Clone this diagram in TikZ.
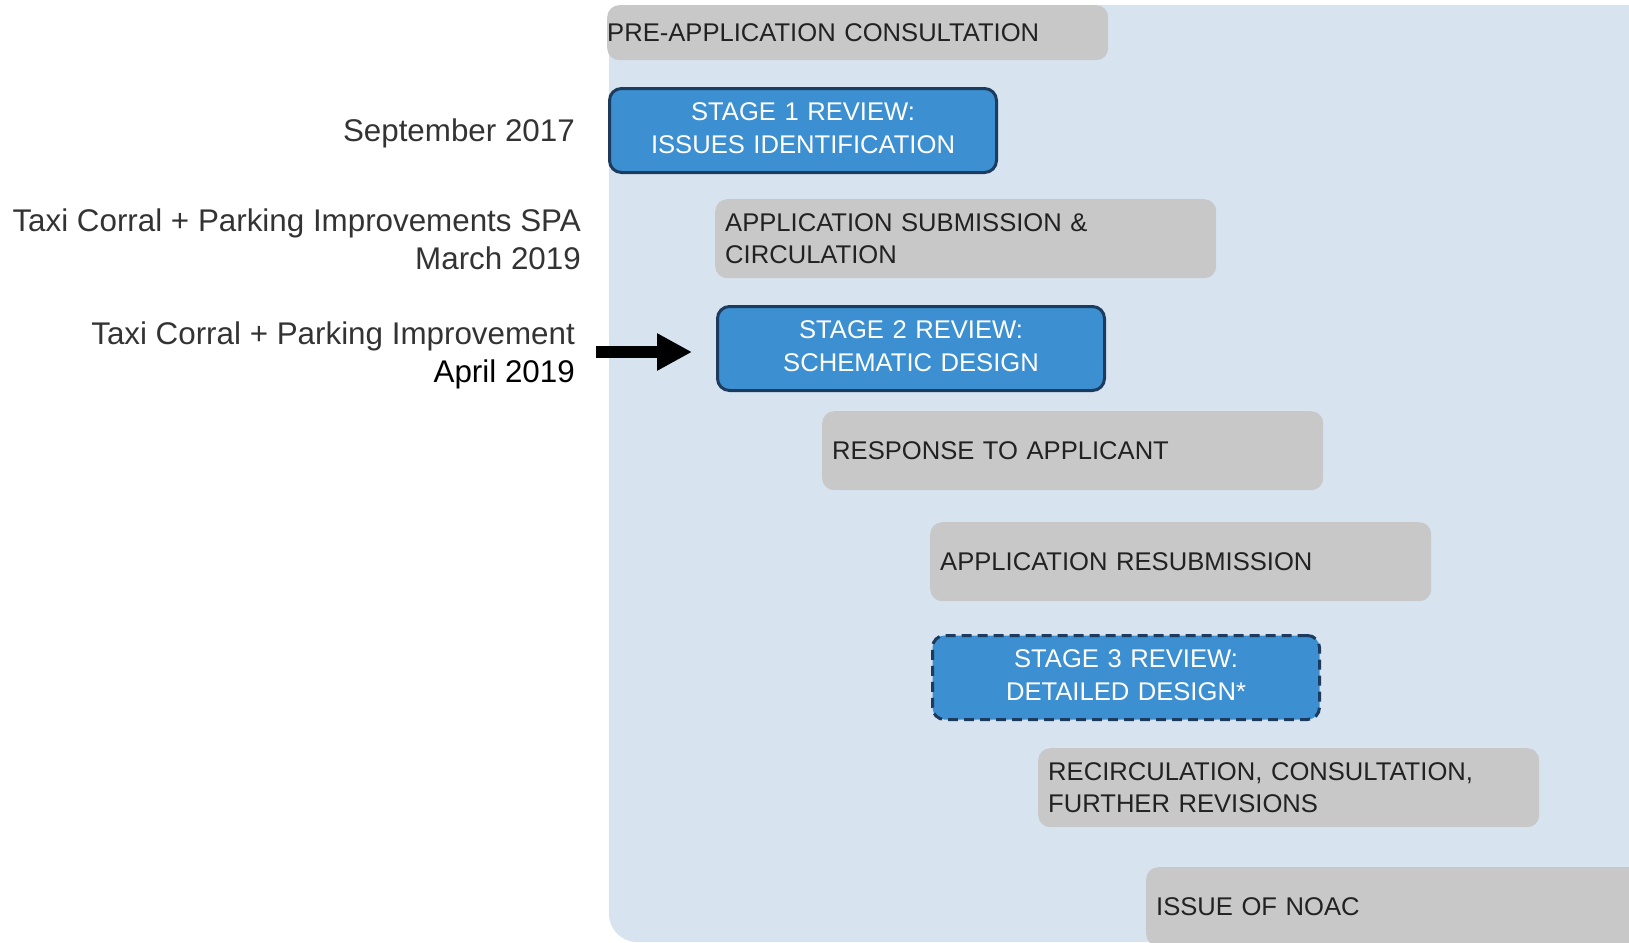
\documentclass[tikz,border=0pt]{standalone}
\usepackage{fontspec}
\setmainfont{Liberation Sans}
\usetikzlibrary{arrows.meta}

\definecolor{panelblue}{HTML}{D7E4EF}
\definecolor{boxgrey}{HTML}{C8C8C8}
\definecolor{stageblue}{HTML}{3C8FD0}
\definecolor{stageedge}{HTML}{1D3B5F}
\definecolor{boxtext}{HTML}{222222}

\newcommand\boxfont{\fontsize{25.6}{32}\selectfont}
\newcommand\datefont{\fontsize{31.35}{38}\selectfont}

\tikzset{
  greybox/.style = {fill=boxgrey, rounded corners=12pt, anchor=north west,
    text width=481pt, inner xsep=10pt, inner ysep=0pt, minimum height=79pt,
    align=left, text=boxtext, font=\boxfont},
  stagebox/.style = {fill=stageblue, draw=stageedge, line width=3pt,
    rounded corners=12pt, anchor=north west, text width=387pt, inner xsep=0pt,
    inner ysep=0pt, minimum height=84pt, align=center, text=white,
    font=\fontsize{25.6}{33}\selectfont},
  datelabel/.style = {anchor=east, align=right, inner sep=0pt,
    text=black!80, font=\datefont},
  bigarrow/.style = {line width=12pt, -{Triangle[length=35pt,width=35pt]}}
}

\begin{document}
\begin{tikzpicture}[x=1pt, y=-1pt]
\path [use as bounding box, clip] (0,0) rectangle (1629,942);
\fill [panelblue, rounded corners=28pt] (609,5) rectangle (1660,942);

\node [greybox, text width=501pt, inner xsep=0pt, minimum height=55pt] (preapp) at (607,5) {PRE-APPLICATION CONSULTATION};
\node [stagebox] (stage1) at (608,87) {STAGE 1 REVIEW:\\ ISSUES IDENTIFICATION\vphantom{g}};
\node [greybox] (submit) at (715,199) {APPLICATION SUBMISSION \&\\ CIRCULATION};
\node [stagebox] (stage2) at (716,305) {STAGE 2 REVIEW:\\ SCHEMATIC DESIGN\vphantom{g}};
\node [greybox] (response) at (822,411) {RESPONSE TO APPLICANT};
\node [greybox] (resubmit) at (930,522) {APPLICATION RESUBMISSION};
\node [stagebox, dash pattern=on 10pt off 6pt] (stage3) at (931,634) {STAGE 3 REVIEW:\\ DETAILED DESIGN*\vphantom{g}};
\node [greybox] (recirc) at (1038,748) {RECIRCULATION, CONSULTATION,\\ FURTHER REVISIONS};
\node [greybox] (noac) at (1146,867) {ISSUE OF NOAC};

\node [datelabel] (sept) at (575,133) {September 2017};
\node [datelabel] (spa) at (581,239) {Taxi Corral + Parking Improvements SPA\\ March 2019};
\node [datelabel] (april) at (575,355) {Taxi Corral + Parking Improvement\\ \textcolor{black}{April 2019}};

\coordinate (arrowstart) at (596,352);
\draw [bigarrow, shorten >=24pt] (arrowstart) -- (arrowstart -| stage2.west);
\end{tikzpicture}
\end{document}
